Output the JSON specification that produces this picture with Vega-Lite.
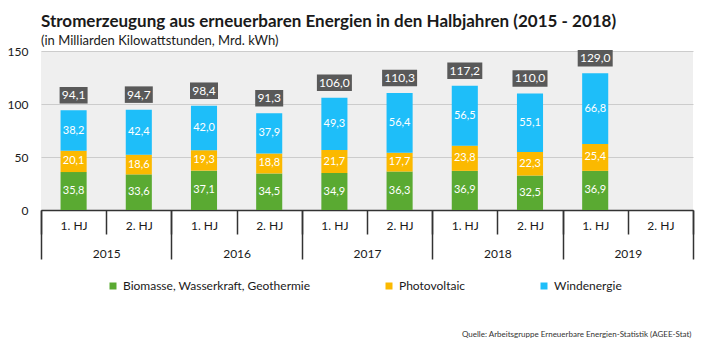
{
  "$schema": "https://vega.github.io/schema/vega-lite/v6.json",
  "width": 652,
  "height": 159,
  "autosize": {"type": "none"},
  "padding": {"left": 41, "top": 51, "right": 14, "bottom": 144},
  "config": {
    "locale": {"number": {"decimal": ",", "thousands": ".", "grouping": [3], "currency": ["", " €"]}},
    "font": "Lato",
    "view": {"fill": "#efefef", "stroke": null},
    "axis": {"labelFont": "Lato", "labelColor": "#1a1a1a", "labelFontSize": 12}
  },
  "title": {
    "text": "Stromerzeugung aus erneuerbaren Energien in den Halbjahren (2015 - 2018)",
    "subtitle": "(in Milliarden Kilowattstunden, Mrd. kWh)",
    "anchor": "start",
    "frame": "group",
    "font": "Lato",
    "fontSize": 17,
    "fontWeight": "bold",
    "color": "#1a1a1a",
    "subtitleFont": "Lato",
    "subtitleFontSize": 13,
    "subtitleColor": "#1a1a1a",
    "subtitlePadding": 4,
    "offset": -4
  },
  "datasets": {
    "segments": [
      {"period": "2015 1. HJ", "year": "2015", "source": "Biomasse, Wasserkraft, Geothermie", "value": 35.8},
      {"period": "2015 1. HJ", "year": "2015", "source": "Photovoltaic", "value": 20.1},
      {"period": "2015 1. HJ", "year": "2015", "source": "Windenergie", "value": 38.2},
      {"period": "2015 2. HJ", "year": "2015", "source": "Biomasse, Wasserkraft, Geothermie", "value": 33.6},
      {"period": "2015 2. HJ", "year": "2015", "source": "Photovoltaic", "value": 18.6},
      {"period": "2015 2. HJ", "year": "2015", "source": "Windenergie", "value": 42.4},
      {"period": "2016 1. HJ", "year": "2016", "source": "Biomasse, Wasserkraft, Geothermie", "value": 37.1},
      {"period": "2016 1. HJ", "year": "2016", "source": "Photovoltaic", "value": 19.3},
      {"period": "2016 1. HJ", "year": "2016", "source": "Windenergie", "value": 42.0},
      {"period": "2016 2. HJ", "year": "2016", "source": "Biomasse, Wasserkraft, Geothermie", "value": 34.5},
      {"period": "2016 2. HJ", "year": "2016", "source": "Photovoltaic", "value": 18.8},
      {"period": "2016 2. HJ", "year": "2016", "source": "Windenergie", "value": 37.9},
      {"period": "2017 1. HJ", "year": "2017", "source": "Biomasse, Wasserkraft, Geothermie", "value": 34.9},
      {"period": "2017 1. HJ", "year": "2017", "source": "Photovoltaic", "value": 21.7},
      {"period": "2017 1. HJ", "year": "2017", "source": "Windenergie", "value": 49.3},
      {"period": "2017 2. HJ", "year": "2017", "source": "Biomasse, Wasserkraft, Geothermie", "value": 36.3},
      {"period": "2017 2. HJ", "year": "2017", "source": "Photovoltaic", "value": 17.7},
      {"period": "2017 2. HJ", "year": "2017", "source": "Windenergie", "value": 56.4},
      {"period": "2018 1. HJ", "year": "2018", "source": "Biomasse, Wasserkraft, Geothermie", "value": 36.9},
      {"period": "2018 1. HJ", "year": "2018", "source": "Photovoltaic", "value": 23.8},
      {"period": "2018 1. HJ", "year": "2018", "source": "Windenergie", "value": 56.5},
      {"period": "2018 2. HJ", "year": "2018", "source": "Biomasse, Wasserkraft, Geothermie", "value": 32.5},
      {"period": "2018 2. HJ", "year": "2018", "source": "Photovoltaic", "value": 22.3},
      {"period": "2018 2. HJ", "year": "2018", "source": "Windenergie", "value": 55.1},
      {"period": "2019 1. HJ", "year": "2019", "source": "Biomasse, Wasserkraft, Geothermie", "value": 36.9},
      {"period": "2019 1. HJ", "year": "2019", "source": "Photovoltaic", "value": 25.4},
      {"period": "2019 1. HJ", "year": "2019", "source": "Windenergie", "value": 66.8}
    ],
    "totals": [
      {"period": "2015 1. HJ", "total": 94.1},
      {"period": "2015 2. HJ", "total": 94.7},
      {"period": "2016 1. HJ", "total": 98.4},
      {"period": "2016 2. HJ", "total": 91.3},
      {"period": "2017 1. HJ", "total": 106.0},
      {"period": "2017 2. HJ", "total": 110.3},
      {"period": "2018 1. HJ", "total": 117.2},
      {"period": "2018 2. HJ", "total": 110.0},
      {"period": "2019 1. HJ", "total": 129.0}
    ]
  },
  "layer": [
    {
      "layer": [
        {
          "data": {"name": "segments"},
          "mark": {"type": "bar", "width": {"band": 0.4}},
          "encoding": {
            "x": {
              "field": "period", "type": "nominal",
              "scale": {"domain": ["2015 1. HJ", "2015 2. HJ", "2016 1. HJ", "2016 2. HJ", "2017 1. HJ", "2017 2. HJ", "2018 1. HJ", "2018 2. HJ", "2019 1. HJ", "2019 2. HJ"], "paddingInner": 0, "paddingOuter": 0},
              "axis": {
                "title": null, "orient": "bottom",
                "labelExpr": "slice(datum.label, 5)", "labelAngle": 0,
                "tickBand": "extent", "tickSize": 24, "tickColor": "#333333", "tickWidth": 1.5,
                "domainColor": "#333333", "domainWidth": 1.5,
                "labelPadding": -14, "labelBaseline": "top", "grid": false
              }
            },
            "y": {
              "field": "value", "type": "quantitative", "stack": "zero",
              "scale": {"domain": [0, 150], "nice": false},
              "axis": {"title": null, "values": [0, 25, 50, 75, 100, 125, 150], "domain": false, "ticks": false, "labelPadding": 13, "gridColor": "#cccccc", "gridWidth": 1}
            },
            "order": {"field": "source", "sort": "ascending"},
            "color": {
              "field": "source", "type": "nominal",
              "scale": {"domain": ["Biomasse, Wasserkraft, Geothermie", "Photovoltaic", "Windenergie"], "range": ["#5aaa32", "#fbb900", "#1ebef9"]},
              "legend": {
                "title": null, "orient": "none", "legendX": 66, "legendY": 229,
                "direction": "horizontal", "symbolType": "square", "symbolSize": 49,
                "labelFontSize": 12, "labelFont": "Lato", "labelColor": "#1a1a1a", "labelLimit": 400,
                "columnPadding": 72, "labelOffset": 4
              }
            }
          }
        },
        {
          "data": {"name": "segments"},
          "transform": [
            {"stack": "value", "groupby": ["period"], "sort": [{"field": "source"}], "as": ["v0", "v1"]},
            {"calculate": "(datum.v0 + datum.v1) / 2", "as": "mid"}
          ],
          "mark": {"type": "text", "color": "white", "fontSize": 11, "baseline": "middle"},
          "encoding": {
            "x": {"field": "period", "type": "nominal"},
            "y": {"field": "mid", "type": "quantitative"},
            "text": {"field": "value", "type": "quantitative", "format": ".1f"}
          }
        },
        {
          "data": {"name": "totals"},
          "mark": {"type": "point", "filled": true, "opacity": 1, "color": "#595959", "size": 784},
          "encoding": {
            "x": {"field": "period", "type": "nominal"},
            "y": {"field": "total", "type": "quantitative"},
            "shape": {"condition": {"test": "datum.total >= 100", "value": "M-1.25,-1.66H1.25V-0.48H-1.25Z"}, "value": "M-1,-1.66H1V-0.48H-1Z"}
          }
        },
        {
          "data": {"name": "totals"},
          "mark": {"type": "text", "color": "white", "fontSize": 12, "dy": -15, "baseline": "middle"},
          "encoding": {
            "x": {"field": "period", "type": "nominal"},
            "y": {"field": "total", "type": "quantitative"},
            "text": {"field": "total", "type": "quantitative", "format": ".1f"}
          }
        }
      ]
    },
    {
      "data": {"name": "segments"},
      "mark": {"type": "rule", "opacity": 0},
      "encoding": {
        "x": {
          "field": "year", "type": "ordinal",
          "scale": {"domain": ["2015", "2016", "2017", "2018", "2019"], "paddingInner": 0, "paddingOuter": 0},
          "axis": {
            "orient": "bottom", "domain": false, "labelAngle": 0,
            "tickBand": "extent", "tickSize": 49, "tickColor": "#333333", "tickWidth": 1.5,
            "labelPadding": -11, "labelBaseline": "top", "grid": false,
            "title": "Quelle: Arbeitsgruppe Erneuerbare Energien-Statistik (AGEE-Stat)",
            "titleFont": "Lato", "titleFontSize": 8, "titleFontWeight": "normal",
            "titleColor": "#333333", "titleAnchor": "end", "titleAlign": "right",
            "titleBaseline": "middle", "titleX": 650, "titleY": 124
          }
        }
      }
    }
  ],
  "resolve": {"scale": {"x": "independent"}}
}
